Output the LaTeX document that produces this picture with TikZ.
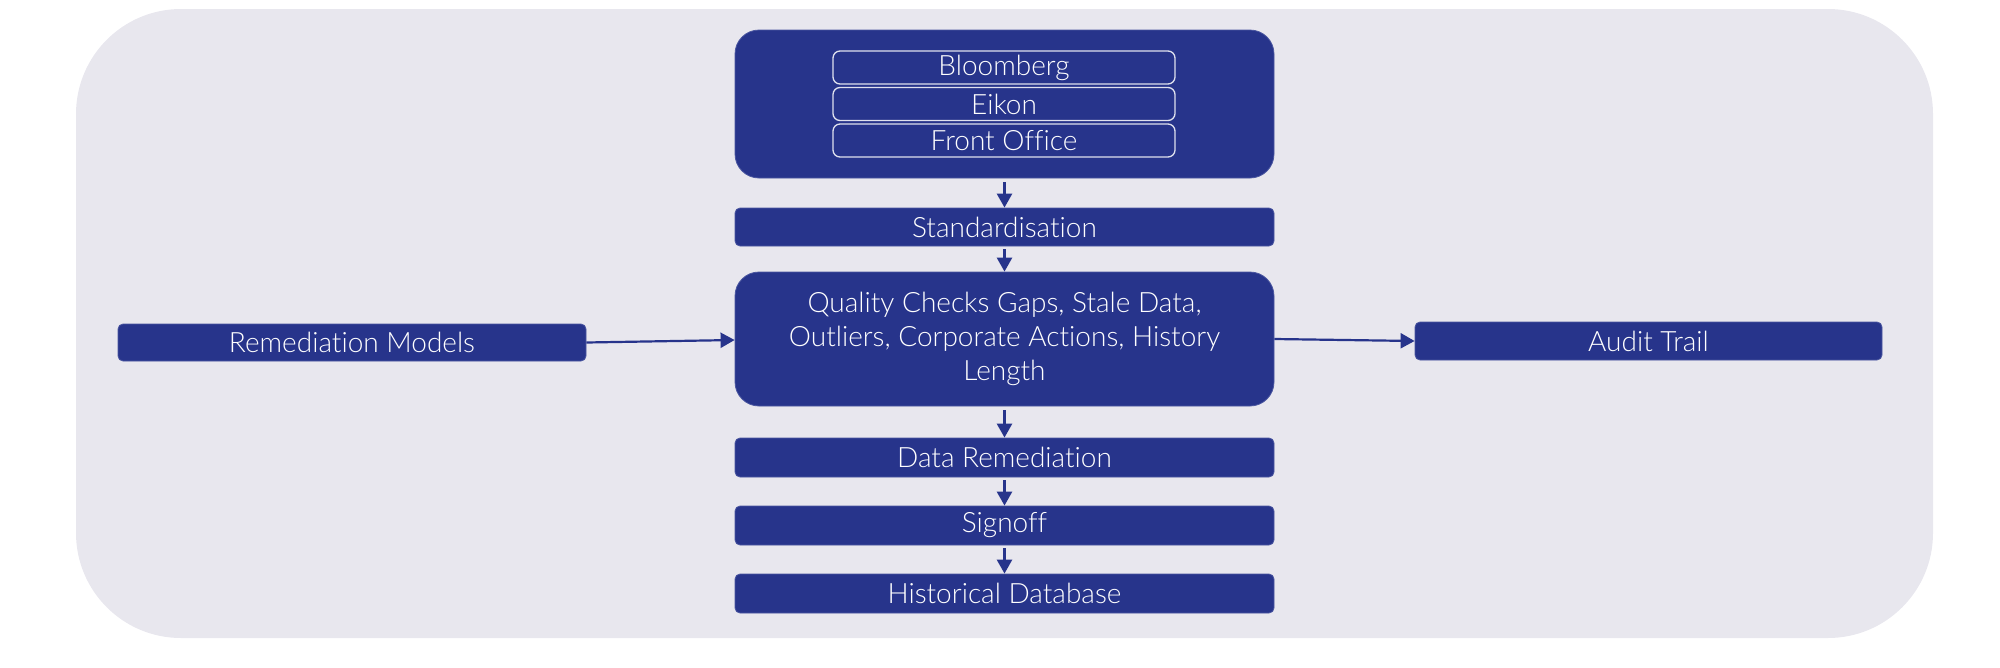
\documentclass[tikz,border=0pt]{standalone}
\usepackage{fontspec}
\setmainfont{Lato Light}[Ligatures={NoCommon}]
\usetikzlibrary{arrows.meta}
\definecolor{navy}{HTML}{27348B}
\definecolor{bg}{HTML}{E8E7EE}
\definecolor{navyedge}{HTML}{4A56A0}
\begin{document}
\begin{tikzpicture}[x=1pt,y=-1pt,
  box/.style={draw=navyedge, line width=0.8pt, fill=navy, text=white, rounded corners=5pt,
    inner sep=0pt, font=\fontsize{28}{34}\selectfont, align=center},
  bigbox/.style={box, rounded corners=24pt},
  srcbox/.style={draw=white!85!navy, line width=1.3pt, fill=navy, text=white, rounded corners=7pt,
    inner sep=0pt, minimum width=342pt, minimum height=33pt, font=\fontsize{28}{30}\selectfont},
  flow/.style={draw=navy, line width=2.6pt, -{Triangle[length=14pt,width=15pt]}},
  hflow/.style={draw=navy, line width=2.2pt, -{Triangle[length=14pt,width=15pt]}}
]
\useasboundingbox (0,0) rectangle (2000,667);
\fill[bg, rounded corners=105pt] (76,9) rectangle (1933,638);

\node[bigbox, minimum width=539pt, minimum height=148pt] (src) at (1004.5,104) {};
\node[srcbox] (bb) at (1004,67.5) {Bloomberg};
\node[srcbox] (ek) at (1004,104) {Eikon};
\node[srcbox] (fo) at (1004,140.5) {Front Office};

\node[box, minimum width=539pt, minimum height=38pt] (std) at (1004.5,227) {Standardisation};
\node[bigbox, minimum width=539pt, minimum height=134pt] (qc) at (1004.5,339)
  {Quality Checks Gaps, Stale Data,\\Outliers, Corporate Actions, History\\Length};
\node[box, minimum width=539pt, minimum height=39pt] (dr) at (1004.5,457.5) {Data Remediation};
\node[box, minimum width=539pt, minimum height=39pt] (so) at (1004.5,525.5) {Signoff};
\node[box, minimum width=539pt, minimum height=39pt] (hd) at (1004.5,593.5) {Historical Database};

\node[box, minimum width=468pt, minimum height=37pt] (rm) at (352,342.5) {Remediation Models};
\node[box, minimum width=467pt, minimum height=38pt] (at) at (1648.5,341) {Audit Trail};

\draw[flow, shorten <=4pt] (src.south) -- (std.north);
\draw[flow, shorten <=3pt] (std.south) -- (qc.north);
\draw[flow, shorten <=4pt] (qc.south) -- (dr.north);
\draw[flow, shorten <=3pt] (dr.south) -- (so.north);
\draw[flow, shorten <=3pt] (so.south) -- (hd.north);
\draw[hflow] (rm.east) -- ([yshift=-1pt]qc.west);
\draw[hflow] (qc.east) -- (at.west);
\end{tikzpicture}
\end{document}
